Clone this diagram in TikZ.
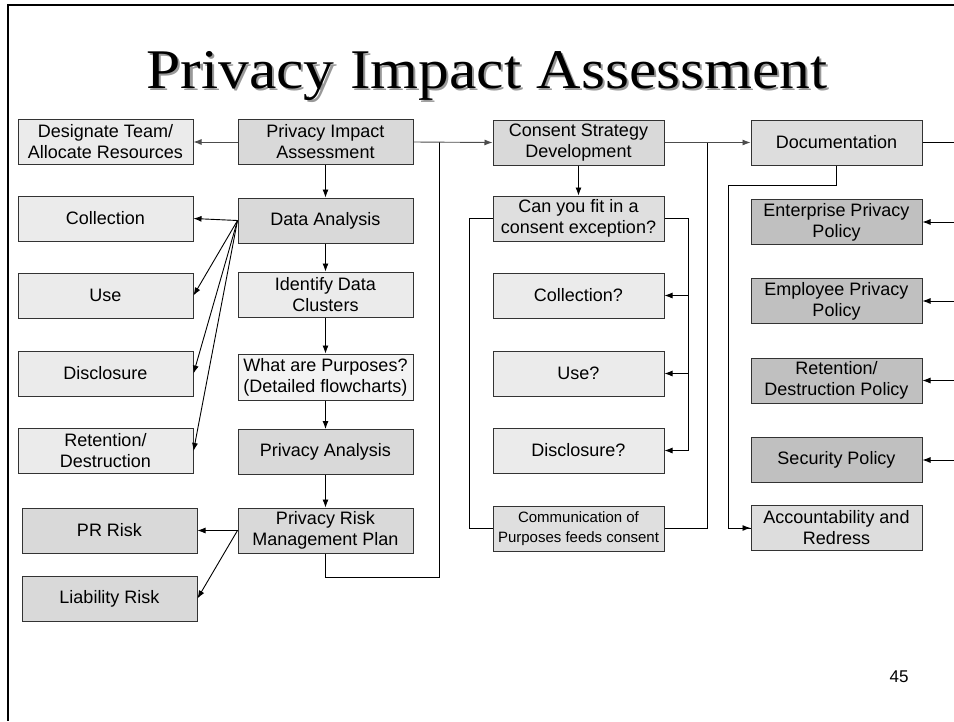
\documentclass[tikz,border=0pt]{standalone}
\usepackage{fontspec}
\setmainfont{Liberation Serif}
\setsansfont{Liberation Sans}
\usepackage{graphicx}
\usepackage{xcolor}
\usetikzlibrary{arrows.meta}
\definecolor{lightbox}{HTML}{EBEBEB}
\definecolor{midbox}{HTML}{D9D9D9}
\definecolor{darkbox}{HTML}{C0C0C0}
% heading with a grey drop shadow
\def\slidetitle#1{\scalebox{1.1}[1]{\fontsize{56}{60}\selectfont
  \rlap{\hspace{2pt}\raisebox{-2pt}{\color{black!40}#1}}#1}}

\begin{document}
\begin{tikzpicture}[x=1pt,y=-1pt]
    \tikzstyle{every node}=[font=\sffamily\fontsize{18}{21}\selectfont]
    \tikzstyle{box}=[draw=black!80,line width=1pt,minimum width=175pt,
      minimum height=45pt,inner sep=1pt,align=center]
    \tikzstyle{narrow}=[box,minimum width=171pt]
    \tikzstyle{arr}=[-{Latex[length=8pt,width=6pt]}]
    \tikzstyle{link}=[line width=0.9pt]
    \useasboundingbox (0,0) rectangle (954,721);

    % slide frame and heading
    \draw[line width=2.5pt] (954,5) -- (8,5) -- (8,721);
    \node[anchor=base,font=\rmfamily] (title) at (487,88) {\slidetitle{Privacy Impact Assessment}};

    % first column
    \node[box,fill=lightbox] (team)  at (105.5,142)   {Designate Team/\\Allocate Resources};
    \node[box,fill=lightbox] (coll)  at (105.5,218.5) {Collection};
    \node[box,fill=lightbox] (use)   at (105.5,295.5) {Use};
    \node[box,fill=lightbox] (discl) at (105.5,373.5) {Disclosure};
    \node[box,fill=lightbox] (reten) at (105.5,451)   {Retention/\\Destruction};
    \node[box,fill=midbox] (prrisk)  at (109.5,530.5) {PR Risk};
    \node[box,fill=midbox] (liab)    at (109.5,598.5) {Liability Risk};

    % second column
    \node[box,fill=midbox] (pia)      at (325.5,142)   {Privacy Impact\\Assessment};
    \node[box,fill=midbox] (data)     at (325.5,220.5) {Data Analysis};
    \node[box,fill=lightbox] (clust)  at (325.5,294.5) {Identify Data\\Clusters};
    \node[box,fill=lightbox!60,minimum height=46pt] (purp) at (325.5,377)
      {What are Purposes?\\(Detailed flowcharts)};
    \node[box,fill=midbox] (panal)    at (325.5,452)   {Privacy Analysis};
    \node[box,fill=midbox] (rmp)      at (325.5,530.5) {Privacy Risk\\Management Plan};

    % third column
    \node[narrow,fill=midbox] (csd)     at (578.5,142.5) {Consent Strategy\\Development};
    \node[narrow,fill=midbox!85] (fit)  at (578.5,218.5) {Can you fit in a\\consent exception?};
    \node[narrow,fill=lightbox] (ccoll) at (578.5,295.5) {Collection?};
    \node[narrow,fill=lightbox] (cuse)  at (578.5,373.5) {Use?};
    \node[narrow,fill=lightbox] (cdisc) at (578.5,450.5) {Disclosure?};
    \node[narrow,fill=midbox!85,font=\sffamily\fontsize{15}{20}\selectfont] (comm) at (578.5,528.5)
      {Communication of\\Purposes feeds consent};

    % fourth column
    \node[narrow,fill=midbox!90] (doc)  at (836.5,142.5) {Documentation};
    \node[narrow,fill=darkbox] (ent)    at (836.5,222)   {Enterprise Privacy\\Policy};
    \node[narrow,fill=darkbox] (emp)    at (836.5,301)   {Employee Privacy\\Policy};
    \node[narrow,fill=darkbox] (retpol) at (836.5,380.5) {Retention/\\Destruction Policy};
    \node[narrow,fill=darkbox] (sec)    at (836.5,460)   {Security Policy};
    \node[narrow,fill=midbox!90] (acc)  at (836.5,528)   {Accountability and\\Redress};

    % main line down the second column
    \draw[link,arr] (pia) -- (data);
    \draw[link,arr] (data) -- (clust);
    \draw[link,arr] (clust) -- (purp);
    \draw[link,arr] (purp) -- (panal);
    \draw[link,arr] (panal) -- (rmp);

    % branches to the left
    \draw[link,arr,black!70] (pia.west) -- (team.east);
    \draw[link,arr] (data.west) -- (coll.east);
    \draw[link,arr] (data.west) -- (use.east);
    \draw[link,arr] (data.west) -- (discl.east);
    \draw[link,arr] (data.west) -- (reten.east);
    \draw[link,arr] (rmp.west) -- (prrisk.east);
    \draw[link,arr] (rmp.west) -- (liab.east);

    % risk plan feeds back into the top line
    \coordinate (loop) at (439,577);
    \draw[link] (rmp.south) |- (loop) -- (loop |- pia.east);
    \draw[link,arr,black!70] (pia.east) -- (csd.west);

    % consent strategy
    \coordinate (fitR) at (688,218.5);
    \coordinate (fitL) at (469,218.5);
    \coordinate (commR) at (707,528.5);
    \draw[link,arr] (csd) -- (fit);
    \draw[link] (fit.east) -- (fitR) -- (fitR |- cdisc.east);
    \draw[link,arr] (fitR |- ccoll.east) -- (ccoll.east);
    \draw[link,arr] (fitR |- cuse.east) -- (cuse.east);
    \draw[link,arr] (fitR |- cdisc.east) -- (cdisc.east);
    \draw[link] (fit.west) -- (fitL) |- (comm.west);
    \draw[link] (comm.east) -- (commR) -- (commR |- csd.east);
    \draw[link,arr,black!70] (csd.east) -- (doc.west);

    % documentation
    \coordinate (docR) at (954,142.5);
    \coordinate (docL) at (728,185);
    \draw[line width=1.8pt] (doc.east) -- (docR);
    \draw[link] (doc.south) |- (docL) |- (acc.west);
    \draw[link,arr] (docL |- acc.west) -- (acc.west);
    \foreach \p in {ent,emp,retpol,sec}
      \draw[link,arr] (docR |- \p.east) -- (\p.east);

    \node[font=\sffamily\fontsize{17}{20}\selectfont] (page) at (899,677) {45};
\end{tikzpicture}
\end{document}
